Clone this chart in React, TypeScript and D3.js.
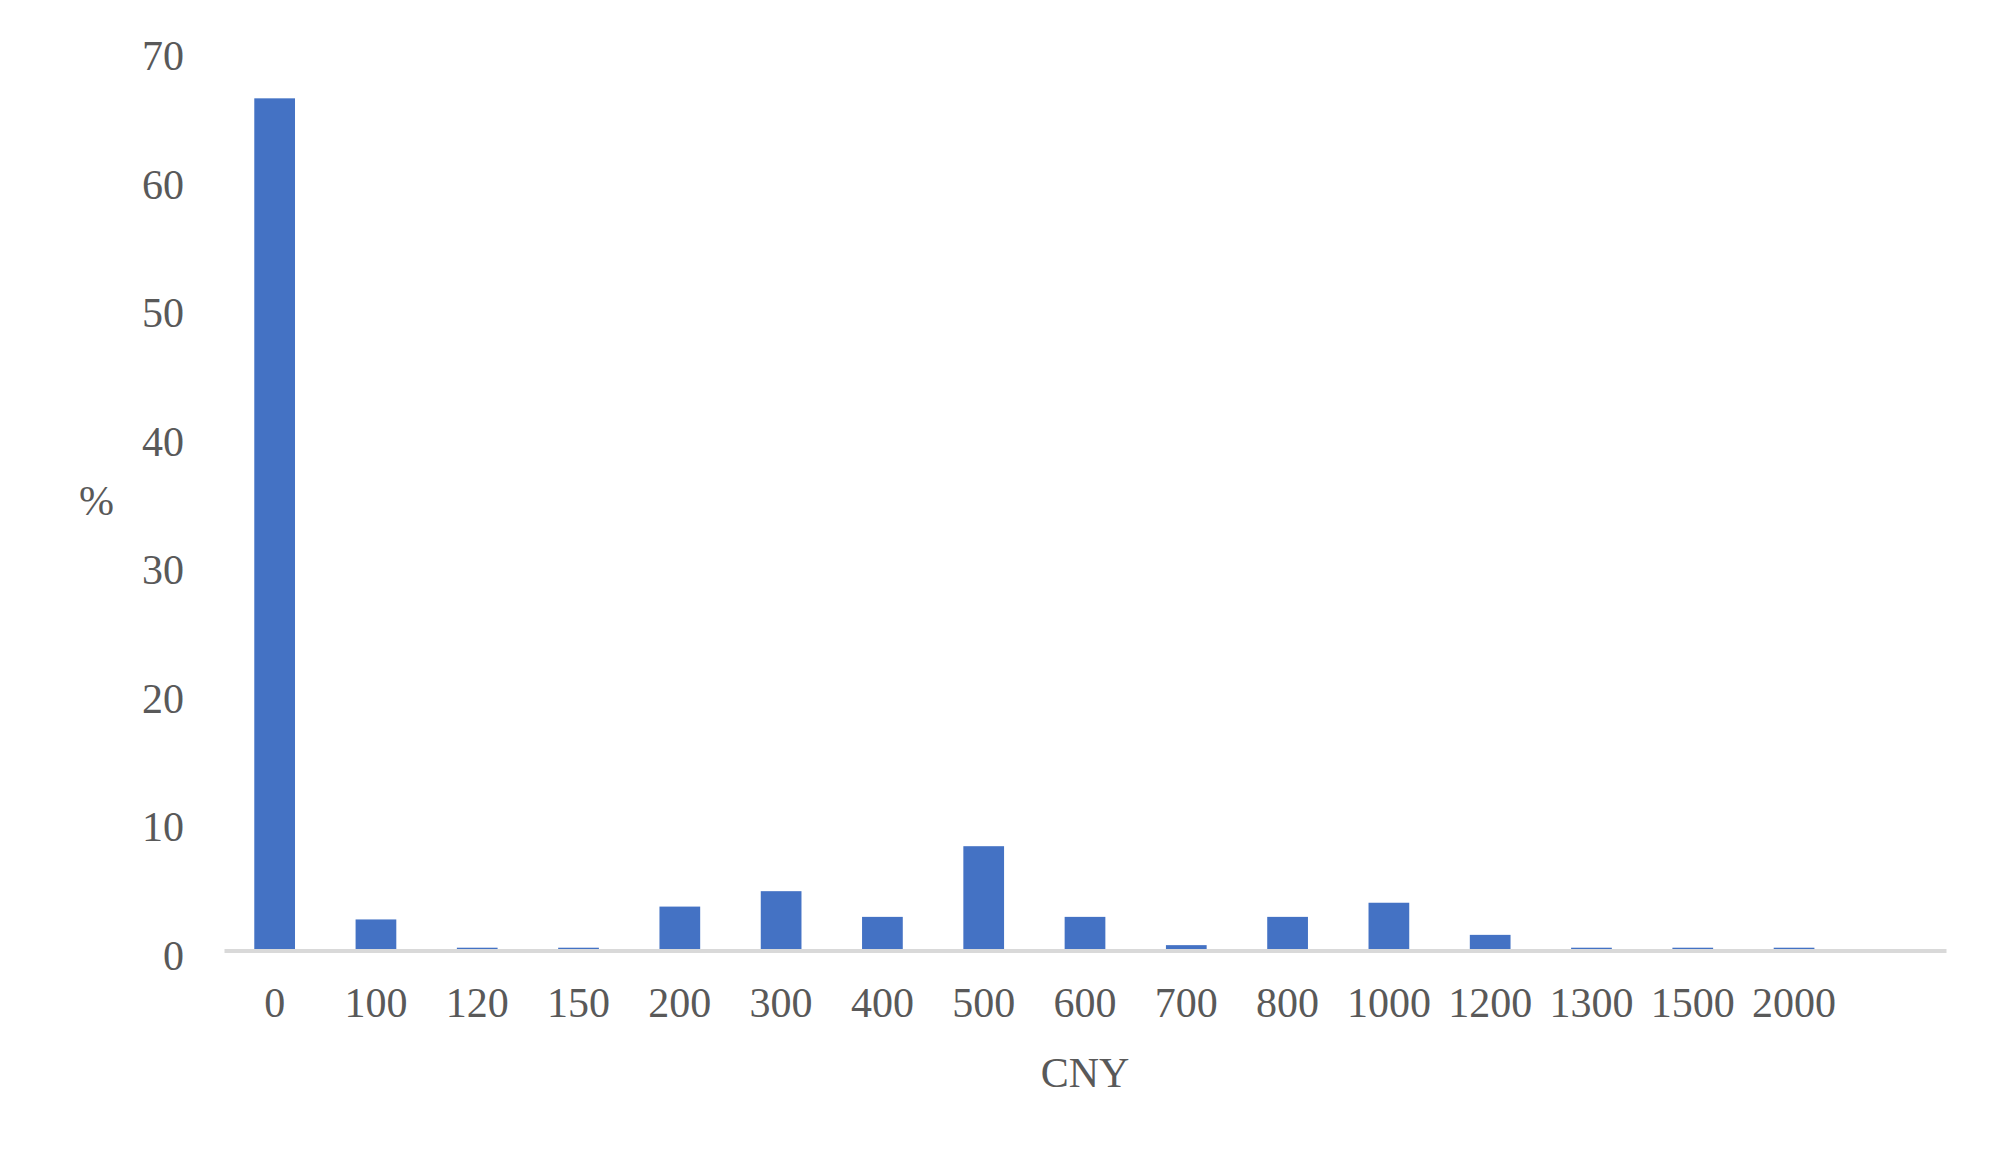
import React, { useEffect, useRef } from 'react';
import * as d3 from 'd3';

// amounts (CNY) on the x axis; the axis has one empty slot after 2000
const categories = ['0', '100', '120', '150', '200', '300', '400', '500', '600', '700', '800', '1000', '1200', '1300', '1500', '2000'];
const shares = [66.2, 2.3, 0.1, 0.1, 3.3, 4.5, 2.5, 8.0, 2.5, 0.3, 2.5, 3.6, 1.1, 0.1, 0.1, 0.1];
const yTicks = [0, 10, 20, 30, 40, 50, 60, 70];

const App = () => {
  const ref = useRef<SVGSVGElement>(null);

  useEffect(() => {
    const width = 2008, height = 1166;
    const left = 224, right = 1946, base = 950.5;
    const font = '"Liberation Serif", "Times New Roman", serif';
    const textColor = '#595959';

    const svg = d3.select(ref.current);
    svg.selectAll('*').remove();
    svg.attr('width', width).attr('height', height);

    const x = d3.scaleBand()
      .domain([...categories, ''])
      .range([left, right])
      .paddingInner(0.598)
      .paddingOuter(0.299);

    const y = d3.scaleLinear()
      .domain([0, 70])
      .range([base - 1.5, base - 1.5 - 70 * 12.85]);

    // bars
    svg.append('g')
      .selectAll('rect')
      .data(shares)
      .enter()
      .append('rect')
      .attr('x', (d, i) => x(categories[i]))
      .attr('width', x.bandwidth())
      .attr('y', d => y(d))
      .attr('height', d => y(0) - y(d))
      .attr('fill', '#4472c4');

    // x axis
    const xAxis = svg.append('g')
      .attr('transform', 'translate(0,' + base + ')')
      .call(d3.axisBottom(x).tickSize(0).tickSizeOuter(0));
    xAxis.select('.domain')
      .attr('stroke', '#d9d9d9')
      .attr('stroke-width', 4);
    xAxis.selectAll('text')
      .attr('y', 66.5)
      .attr('dy', null)
      .attr('fill', textColor)
      .style('font-family', font)
      .style('font-size', '42px');

    // y axis (labels only)
    const yAxis = svg.append('g')
      .attr('transform', 'translate(184,0)')
      .call(d3.axisLeft(y).tickValues(yTicks).tickSize(0).tickPadding(0));
    yAxis.select('.domain').remove();
    yAxis.selectAll('text')
      .attr('dy', 20)
      .attr('fill', textColor)
      .style('font-family', font)
      .style('font-size', '42px');

    svg.append('text')
      .attr('x', 96.5)
      .attr('y', 515)
      .attr('text-anchor', 'middle')
      .attr('fill', textColor)
      .style('font-family', font)
      .style('font-size', '42px')
      .text('%');

    svg.append('text')
      .attr('x', (left + right) / 2)
      .attr('y', 1087)
      .attr('text-anchor', 'middle')
      .attr('fill', textColor)
      .style('font-family', font)
      .style('font-size', '42px')
      .text('CNY');
  }, []);

  return (
    <svg ref={ref} style={{ position: 'absolute', left: 0, top: 0, display: 'block', background: '#fff' }} />
  );
};

export default App;
